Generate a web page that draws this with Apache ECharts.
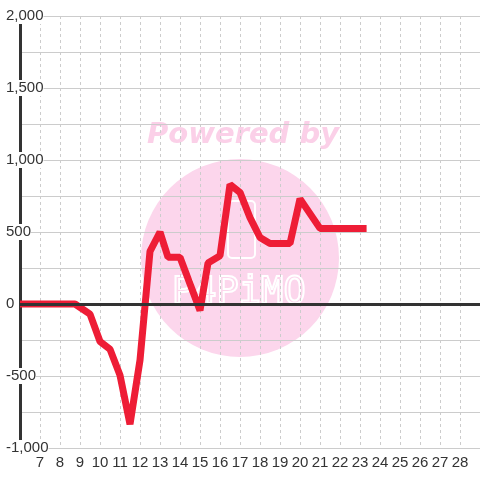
<!DOCTYPE html>
<html>
  <head>
    <meta charset="UTF-8" />
    <script src="https://cdn.jsdelivr.net/npm/echarts@6/dist/echarts.min.js"></script>
    <style>
      html, body { margin: 0; padding: 0; background: #fff; }
    </style>
  </head>
  <body>
    <div id="main"></div>
    <script>
      const width = 480;
      const height = 480;
      const main = document.getElementById('main');
      main.style.width = `${width}px`;
      main.style.height = `${height}px`;

      // values
      const hours = [6, 8.75, 9.5, 10, 10.5, 11, 11.5, 12, 12.5, 13, 13.4, 14, 15, 15.4, 16,
        16.5, 17, 17.5, 18, 18.5, 19.5, 20, 21, 23.33];
      const values = [0, 0, -70, -260, -315, -495, -835, -390, 365, 500, 325, 325, -45, 285, 335,
        830, 775, 600, 462, 420, 420, 730, 525, 525];

      const yMin = -1000;
      const yMax = 2000;
      const xMin = 6;
      const xMax = 29;

      const data = hours.map((h, i) => [h, values[i]]);

      const myChart = echarts.init(main);
      const option = {
        animation: false,
        backgroundColor: '#fff',
        graphic: [
          {
            type: 'circle',
            z: -10,
            shape: { cx: 240, cy: 258, r: 99 },
            style: { fill: 'rgb(252,214,236)' },
          },
          {
            type: 'rect',
            z: -9,
            shape: { x: 228, y: 201, width: 27, height: 57, r: 4 },
            style: { fill: 'none', stroke: '#fff', lineWidth: 2 },
          },
          {
            type: 'text',
            z: -9,
            left: 171,
            top: 274,
            style: {
              text: 'P4PiMO',
              font: '37px "DejaVu Sans Mono"',
              fill: 'none',
              stroke: '#fff',
              lineWidth: 2,
            },
          },
          {
            type: 'text',
            z: -9,
            left: 147,
            top: 121,
            style: {
              text: 'Powered by',
              font: 'italic bold 29px "DejaVu Sans"',
              fill: 'rgb(251,208,232)',
            },
          },
        ],
        grid: { left: 20, right: 0, top: 16, bottom: 32 },
        xAxis: {
          type: 'value',
          min: xMin,
          max: xMax,
          interval: 1,
          axisLine: { show: false },
          axisTick: { show: false },
          axisLabel: {
            showMinLabel: false,
            showMaxLabel: false,
            color: '#333',
            fontSize: 15,
            fontFamily: 'Liberation Sans',
            margin: 7,
          },
          splitLine: {
            show: true,
            lineStyle: { color: '#ccc', type: [3, 3], width: 1 },
          },
        },
        yAxis: {
          type: 'value',
          min: yMin,
          max: yMax,
          interval: 500,
          axisLine: { show: true, onZero: false, lineStyle: { color: '#333', width: 3 } },
          axisTick: { show: false },
          axisLabel: {
            align: 'left',
            margin: 14,
            color: '#333',
            fontSize: 15,
            fontFamily: 'Liberation Sans',
            backgroundColor: '#fff',
            padding: [1, 0, 0, 0],
            formatter: (v) => v.toLocaleString('en-US'),
          },
          splitLine: { show: true, lineStyle: { color: '#ccc', width: 1 } },
          minorTick: { show: false, splitNumber: 2 },
          minorSplitLine: { show: true, lineStyle: { color: '#ccc', width: 1 } },
        },
        series: [
          {
            type: 'line',
            z: 1,
            data: [],
            silent: true,
            markLine: {
              silent: true,
              symbol: 'none',
              label: { show: false },
              lineStyle: { color: '#333', width: 3, type: 'solid' },
              data: [{ yAxis: 0 }],
            },
          },
          {
            type: 'line',
            z: 3,
            data,
            showSymbol: false,
            lineStyle: { color: '#ee1d36', width: 7 },
          },
        ],
      };
      myChart.setOption(option);
    </script>
  </body>
</html>
